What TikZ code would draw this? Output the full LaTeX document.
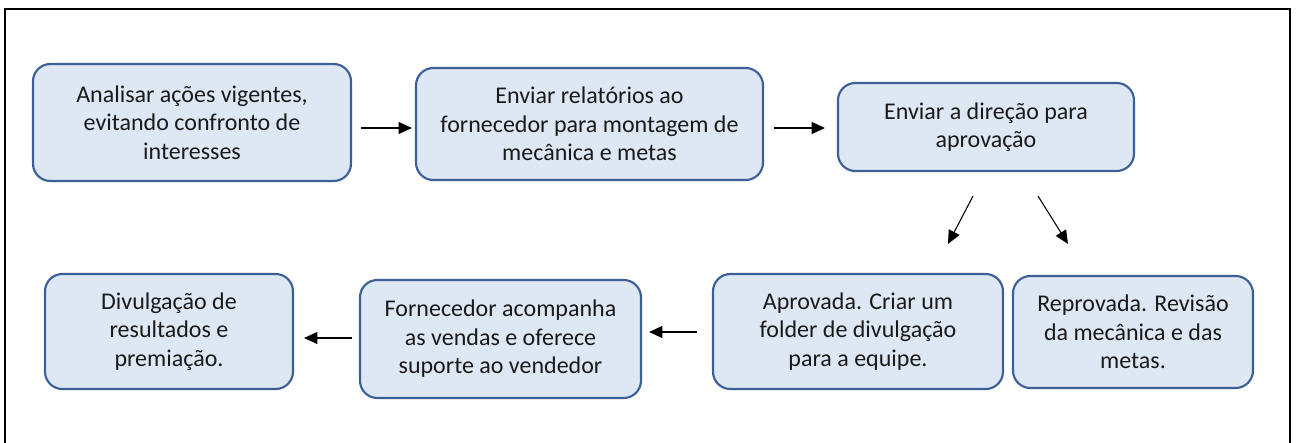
\documentclass[tikz,border=0pt]{standalone}
\usepackage{fontspec}
\setmainfont{Carlito}
\usetikzlibrary{arrows.meta}
\definecolor{boxfill}{HTML}{DEE8F4}
\definecolor{boxline}{HTML}{3D5F98}
\definecolor{txt}{HTML}{1A1A1A}
\tikzset{
  stepbox/.style={draw=boxline, line width=1.6pt, fill=boxfill, rounded corners=13pt,
    align=center, text=txt, inner sep=0pt,
    font=\fontsize{18}{21.4}\selectfont},
  arr/.style={line width=0.8pt, -{Triangle[length=10pt,width=9pt]}}
}
\begin{document}
\begin{tikzpicture}[x=0.75pt,y=-0.75pt]
\useasboundingbox (0,0) rectangle (1297,443);
\draw[line width=1.6pt] (5,450) -- (5,9) -- (1290,9) -- (1290,450);
\node[stepbox, minimum width=318*0.75pt, minimum height=117*0.75pt] (b1) at (192,122.5)
  {Analisar ações vigentes,\\ evitando confronto de\\ interesses};
\node[stepbox, minimum width=347*0.75pt, minimum height=112*0.75pt] (b2) at (589.5,124)
  {Enviar relatórios ao\\ fornecedor para montagem de\\ mecânica e metas};
\node[stepbox, minimum width=296*0.75pt, minimum height=88*0.75pt] (b3) at (986,127)
  {Enviar a direção para\\ aprovação};
\node[stepbox, minimum width=290*0.75pt, minimum height=115*0.75pt] (b4) at (858,331.5)
  {Aprovada. Criar um\\ folder de divulgação\\ para a equipe.};
\node[stepbox, minimum width=240*0.75pt, minimum height=112*0.75pt] (b5) at (1133,332)
  {Reprovada. Revisão\\ da mecânica e das\\ metas.};
\node[stepbox, minimum width=281*0.75pt, minimum height=118*0.75pt] (b6) at (500.5,339)
  {Fornecedor acompanha\\ as vendas e oferece\\ suporte ao vendedor};
\node[stepbox, minimum width=248*0.75pt, minimum height=115*0.75pt] (b7) at (169,331.5)
  {Divulgação de\\ resultados e\\ premiação.};
\draw[arr] ([shift={(9,5.5)}]b1.east) -- ([shift={(-3,4)}]b2.west);
\draw[arr] ([shift={(10,4)}]b2.east) -- ([shift={(-12,1)}]b3.west);
\draw[arr] ([shift={(-13,24)}]b3.south) -- ([shift={(90,-29)}]b4.north);
\draw[arr] ([shift={(52,24)}]b3.south) -- ([shift={(-65,-31)}]b5.north);
\draw[arr] ([shift={(-15,0.5)}]b4.west) -- ([shift={(7,-7)}]b6.east);
\draw[arr] ([shift={(-7,-1)}]b6.west) -- ([shift={(10,6.5)}]b7.east);
\end{tikzpicture}
\end{document}
